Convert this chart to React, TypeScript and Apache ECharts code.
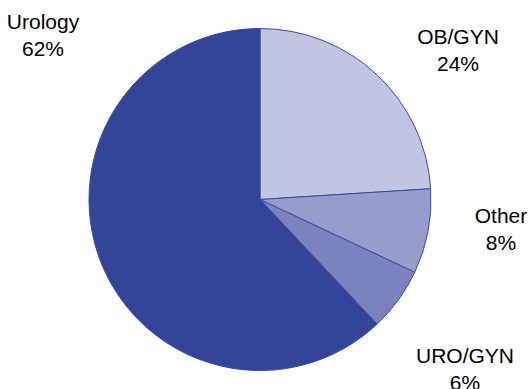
import React, { useEffect, useRef } from "react";
import * as echarts from "echarts";

const categories = ["OB/GYN", "Other", "URO/GYN", "Urology"];
const values = [24, 8, 6, 62];
const colors = ["#c0c5e1", "#969dcc", "#7b83bf", "#344499"];
const labelPositions: [number, number][] = [
  [458, 50],
  [501, 229],
  [465, 369],
  [43, 35],
];

export default function App() {
  const ref = useRef<HTMLDivElement>(null);
  useEffect(() => {
    document.body.style.margin = "0";
    const chart = echarts.init(ref.current!, null, { renderer: "svg" });
    chart.setOption({
      animation: false,
      backgroundColor: "#ffffff",
      series: [
        {
          type: "pie",
          center: [260, 199.5],
          radius: 171,
          startAngle: 90,
          clockwise: true,
          avoidLabelOverlap: false,
          data: categories.map((name, i) => ({
            name,
            value: values[i],
            itemStyle: { color: colors[i] },
          })),
          itemStyle: { borderColor: "#3a4aa3", borderWidth: 1 },
          emphasis: { disabled: true },
          label: {
            show: true,
            position: "outside",
            formatter: "{b}\n{d}%",
            fontFamily: "'Liberation Sans', Arial, sans-serif",
            fontSize: 21,
            lineHeight: 27,
            color: "#000000",
            align: "center",
          },
          labelLine: { show: false },
          labelLayout: (params: any) => {
            const p = labelPositions[params.dataIndex];
            return { x: p[0], y: p[1], align: "center", verticalAlign: "middle" };
          },
        },
      ],
    });
    return () => chart.dispose();
  }, []);
  return (
    <div
      ref={ref}
      style={{ position: "fixed", left: 0, top: 0, width: 530, height: 389 }}
    />
  );
}
